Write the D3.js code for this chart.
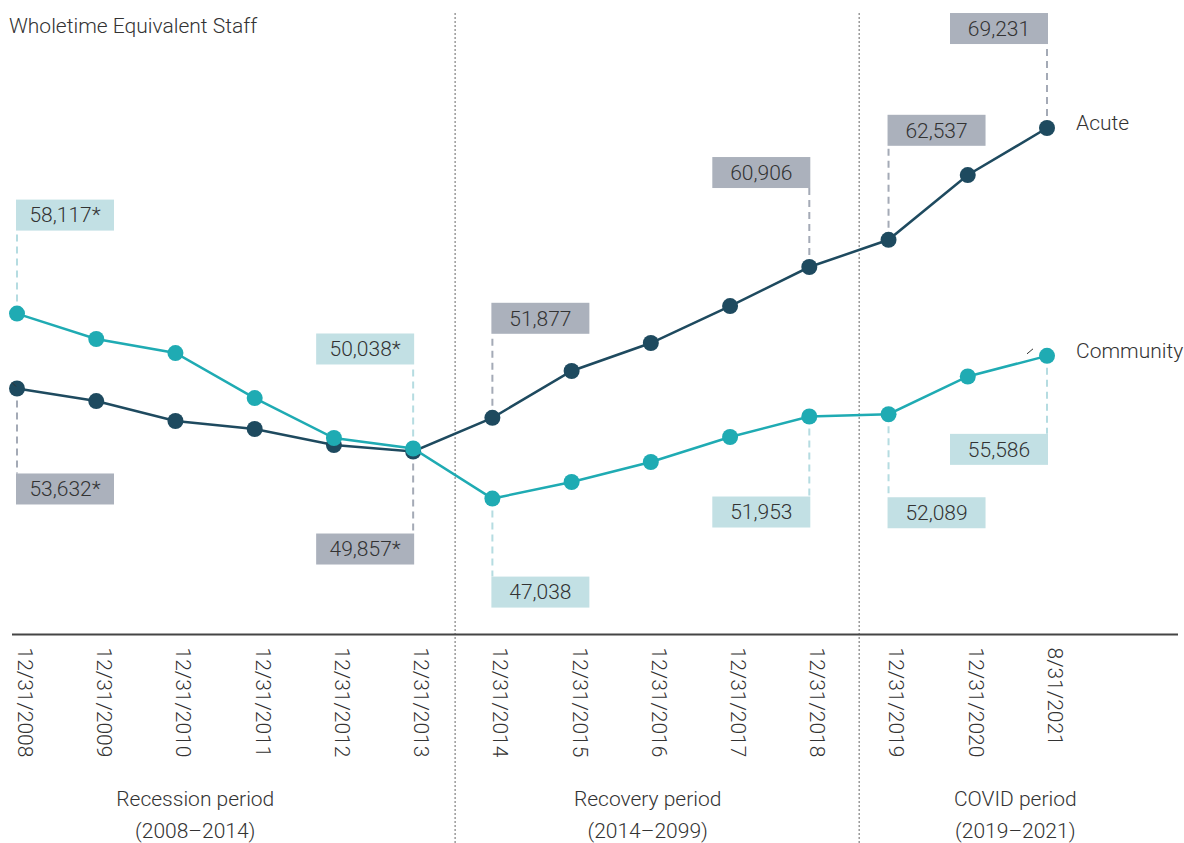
<!DOCTYPE html>
<html>
<head>
<meta charset="utf-8">
<script src="https://cdn.jsdelivr.net/npm/d3@7"></script>
<style>
  html, body { margin: 0; padding: 0; background: #fff; }
  svg { display: block; font-family: Roboto, "Noto Sans", sans-serif; font-weight: 300; }
</style>
</head>
<body>
<svg id="chart" width="1184" height="843"></svg>
<script>
// ---------- data ----------
const categories = ["12/31/2008","12/31/2009","12/31/2010","12/31/2011","12/31/2012","12/31/2013",
  "12/31/2014","12/31/2015","12/31/2016","12/31/2017","12/31/2018","12/31/2019","12/31/2020","8/31/2021"];
const acuteValues = [53632, 52880, 51685, 51205, 50245, 49857, 51877, 54680, 56355, 58570, 60906, 62537, 66415, 69231];
const communityValues = [58117, 56595, 55755, 53060, 50665, 50038, 47038, 48030, 49230, 50725, 51953, 52089, 54350, 55586];
const seriesNames = ["Acute", "Community"];
const periodNames = ["Recession period", "Recovery period", "COVID period"];
const periodRanges = ["(2008\u20132014)", "(2014\u20132099)", "(2019\u20132021)"];
const yAxisTitle = "Wholetime Equivalent Staff";
// annotated points: [category index, series, asterisk]
const annotatedPoints = [
  [0, "Community", true], [0, "Acute", true],
  [5, "Community", true], [5, "Acute", true],
  [6, "Acute", false], [6, "Community", false],
  [10, "Acute", false], [10, "Community", false],
  [11, "Acute", false], [11, "Community", false],
  [13, "Acute", false], [13, "Community", false]
];

// ---------- layout (positions / styles) ----------
// per annotation: side (-1 above, +1 below), align ("left" box starts at point, "right" box ends at point), gap px
const annotationLayout = [
  [-1, "left", 83], [1, "left", 85],
  [-1, "right", 84], [1, "right", 82],
  [-1, "left", 84], [1, "left", 78],
  [-1, "right", 79], [1, "right", 80],
  [-1, "left", 94], [1, "left", 83],
  [-1, "right", 84], [1, "right", 78]
];
const dividerPositions = [5.53, 10.63];       // in category-index units
const periodCenters = [2.25, 7.96, 12.6];      // in category-index units
const fontSize = 21;

const colors = { Acute: "#1e4a5f", Community: "#1fabb3" };
const boxColors = { Acute: "#abb1bc", Community: "#c2e0e4" };
const dashColors = { Acute: "#a4aab6", Community: "#b5dce1" };
const textColor = "#333";

const svg = d3.select("#chart");
const W = 1184, H = 843;

const x = d3.scalePoint().domain(categories).range([17, 1047]);
const xi = d3.scaleLinear().domain([0, categories.length - 1]).range([17, 1047]);
const y = d3.scaleLinear().domain([40000, 75000]).range([616.1, 31.7]);
const fmt = d3.format(",");

const seriesData = {
  Acute: categories.map((c, i) => ({ c, i, v: acuteValues[i] })),
  Community: categories.map((c, i) => ({ c, i, v: communityValues[i] }))
};

// title
svg.append("text").attr("x", 9).attr("y", 33)
  .attr("font-size", fontSize).attr("fill", textColor).text(yAxisTitle);

// dividers
svg.selectAll("line.divider").data(dividerPositions).join("line")
  .attr("class", "divider")
  .attr("x1", d => xi(d)).attr("x2", d => xi(d))
  .attr("y1", 13).attr("y2", H)
  .attr("stroke", "#9a9a9a").attr("stroke-width", 1.5).attr("stroke-dasharray", "2,2");

// axis
const axisY = 634.5;
svg.append("line").attr("x1", 12).attr("x2", 1178).attr("y1", axisY).attr("y2", axisY)
  .attr("stroke", "#454545").attr("stroke-width", 2);
const axisG = svg.append("g").attr("transform", `translate(0,${axisY})`)
  .call(d3.axisBottom(x).tickSize(0).tickPadding(0));
axisG.select(".domain").remove();
axisG.selectAll(".tick text")
  .attr("font-family", "Roboto, sans-serif").attr("font-weight", 300)
  .attr("font-size", fontSize).attr("fill", textColor)
  .attr("text-anchor", "start")
  .attr("transform", "translate(0,13) rotate(90)")
  .attr("x", 0).attr("y", 0).attr("dy", "-0.02em");

// period labels
periodNames.forEach((p, k) => {
  const t = svg.append("text").attr("text-anchor", "middle").attr("font-size", fontSize).attr("fill", textColor);
  t.append("tspan").attr("x", xi(periodCenters[k])).attr("y", 806).text(p);
  t.append("tspan").attr("x", xi(periodCenters[k])).attr("y", 838).text(periodRanges[k]);
});

// annotations (dashed leaders + boxes)
const boxW = 98, boxH = 31;
const annG = svg.append("g");
annotatedPoints.forEach((a, k) => {
  const [idx, s, star] = a;
  const [side, align, gap] = annotationLayout[k];
  const v = seriesData[s][idx].v;
  const px = x(categories[idx]), py = y(v);
  const boxY = side < 0 ? py - gap - boxH : py + gap;
  const boxX = align === "left" ? px - 1 : px - boxW + 1;
  const edgeY = side < 0 ? boxY + boxH : boxY;
  annG.append("line").attr("x1", px).attr("x2", px).attr("y1", py).attr("y2", edgeY)
    .attr("stroke", dashColors[s]).attr("stroke-width", 2).attr("stroke-dasharray", "7,5");
  annG.append("rect").attr("x", boxX).attr("y", boxY).attr("width", boxW).attr("height", boxH)
    .attr("fill", boxColors[s]);
  annG.append("text").attr("x", boxX + boxW / 2).attr("y", boxY + boxH / 2).attr("dy", "0.35em")
    .attr("text-anchor", "middle").attr("font-size", fontSize).attr("fill", textColor)
    .text(fmt(v) + (star ? "*" : ""));
});

// lines and points
const line = d3.line().x(d => x(d.c)).y(d => y(d.v));
seriesNames.forEach(s => {
  svg.append("path").datum(seriesData[s]).attr("d", line)
    .attr("fill", "none").attr("stroke", colors[s]).attr("stroke-width", 2.5);
  svg.append("g").selectAll("circle").data(seriesData[s]).join("circle")
    .attr("cx", d => x(d.c)).attr("cy", d => y(d.v)).attr("r", 8).attr("fill", colors[s]);
});

// tiny leader remnants seen in the original
const firstA = seriesData.Acute[0], lastC = seriesData.Community[seriesData.Community.length - 1];
svg.append("line").attr("x1", x(firstA.c) - 5).attr("y1", y(firstA.v) - 6)
  .attr("x2", x(firstA.c) - 1).attr("y2", y(firstA.v) - 2)
  .attr("stroke", "#333").attr("stroke-width", 1);
svg.append("line").attr("x1", x(lastC.c) - 20).attr("y1", y(lastC.v) - 2)
  .attr("x2", x(lastC.c) - 14).attr("y2", y(lastC.v) - 7)
  .attr("stroke", "#333").attr("stroke-width", 1);

// series labels
seriesNames.forEach(s => {
  const last = seriesData[s][seriesData[s].length - 1];
  svg.append("text").attr("x", x(last.c) + 29).attr("y", y(last.v) - 5).attr("dy", "0.35em")
    .attr("font-size", fontSize).attr("fill", textColor).text(s);
});
</script>
</body>
</html>
